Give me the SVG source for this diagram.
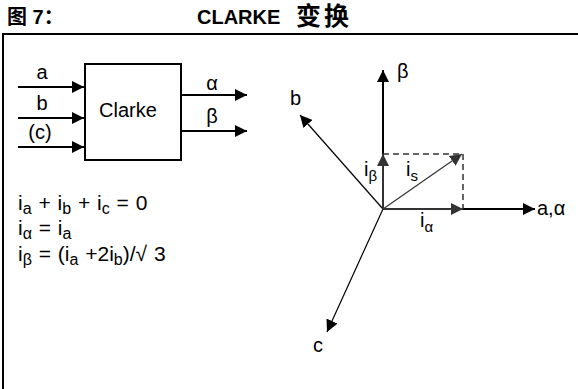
<svg xmlns="http://www.w3.org/2000/svg" width="578" height="389" viewBox="0 0 578 389">
<defs>
<style>
text{font-family:"Liberation Sans",Arial,"Noto Sans CJK SC",sans-serif;fill:#000}
.t{font-size:20px;font-weight:bold}
.cj{font-size:25px;font-weight:bold;letter-spacing:3px}
.l{font-size:20px}
.e{font-size:21px;word-spacing:1px}
.s{font-size:15px}
.es{font-size:16px}
.ln{stroke:#000;stroke-width:2;fill:none}
.thin{stroke:#000;stroke-width:1.2;fill:none}
.g{stroke:#333;stroke-width:2;fill:none}
.gt{stroke:#333;stroke-width:1.2;fill:none}
.d{stroke:#333;stroke-width:1.5;fill:none;stroke-dasharray:6 4}
</style>
<marker id="ah" viewBox="0 0 12 12" refX="12" refY="6" markerWidth="12" markerHeight="12" markerUnits="userSpaceOnUse" orient="auto"><path d="M0,0 L12,6 L0,12 z" fill="#000"/></marker>
<marker id="ahg" viewBox="0 0 12 12" refX="12" refY="6" markerWidth="12" markerHeight="12" markerUnits="userSpaceOnUse" orient="auto"><path d="M0,0 L12,6 L0,12 z" fill="#333"/></marker>
</defs>
<g id="title">
<text class="t" x="7" y="24">图 7：</text>
<text class="t" x="197" y="24">CLARKE</text>
<text class="cj" x="296" y="25">变换</text>
</g>
<g id="frame">
<line x1="3" y1="34" x2="578" y2="34" class="ln"/>
<line x1="3" y1="33" x2="3" y2="389" class="ln"/>
</g>
<g id="clarke">
<rect x="85" y="64" width="96" height="96" class="ln"/>
<text x="128" y="117" font-size="20" text-anchor="middle">Clarke</text>
</g>
<g id="connectors">
<line x1="18" y1="87" x2="84" y2="87" class="ln" marker-end="url(#ah)"/>
<line x1="18" y1="118" x2="84" y2="118" class="ln" marker-end="url(#ah)"/>
<line x1="18" y1="147" x2="84" y2="147" class="ln" marker-end="url(#ah)"/>
<line x1="182" y1="95" x2="247" y2="95" class="ln" marker-end="url(#ah)"/>
<line x1="182" y1="131" x2="247" y2="131" class="ln" marker-end="url(#ah)"/>
<line x1="383" y1="154" x2="383" y2="70" class="ln" marker-end="url(#ah)"/>
<line x1="463" y1="209" x2="535" y2="209" class="ln" marker-end="url(#ah)"/>
<line x1="383" y1="209" x2="300" y2="115" class="thin" marker-end="url(#ah)"/>
<line x1="383" y1="209" x2="327" y2="332" class="thin" marker-end="url(#ah)"/>
<polyline points="383,154 463,154 463,209" class="d"/>
<line x1="383" y1="209" x2="383" y2="154" class="g" marker-end="url(#ahg)"/>
<line x1="383" y1="209" x2="463" y2="209" class="g" marker-end="url(#ahg)"/>
<line x1="383" y1="209" x2="462" y2="154" class="gt" marker-end="url(#ahg)"/>
</g>
<g id="labels">
<text class="l" x="42" y="79" text-anchor="middle">a</text>
<text class="l" x="42" y="110" text-anchor="middle">b</text>
<text class="l" x="40" y="139" text-anchor="middle">(c)</text>
<text class="l" x="212" y="90" text-anchor="middle">α</text>
<text class="l" x="212" y="123" text-anchor="middle">β</text>
<text class="l" x="397" y="78">β</text>
<text class="l" x="290" y="105">b</text>
<text class="l" x="313" y="352">c</text>
<text class="l" x="537" y="215">a,α</text>
<text class="l" x="364" y="176">i<tspan class="s" dy="5">β</tspan></text>
<text class="l" x="406" y="176">i<tspan class="s" dy="5">s</tspan></text>
<text class="l" x="420" y="227">i<tspan class="s" dy="5">α</tspan></text>
</g>
<g id="equations">
<text class="e" x="18" y="210">i<tspan class="es" dy="4">a</tspan><tspan dy="-4"> + i</tspan><tspan class="es" dy="4">b</tspan><tspan dy="-4"> + i</tspan><tspan class="es" dy="4">c</tspan><tspan dy="-4"> = 0</tspan></text>
<text class="e" x="18" y="235">i<tspan class="es" dy="4">α</tspan><tspan dy="-4"> = i</tspan><tspan class="es" dy="4">a</tspan></text>
<text class="e" x="18" y="261">i<tspan class="es" dy="4">β</tspan><tspan dy="-4"> = (i</tspan><tspan class="es" dy="4">a</tspan><tspan dy="-4"> +2i</tspan><tspan class="es" dy="4">b</tspan><tspan dy="-4">)/√ 3</tspan></text>
</g>
</svg>
